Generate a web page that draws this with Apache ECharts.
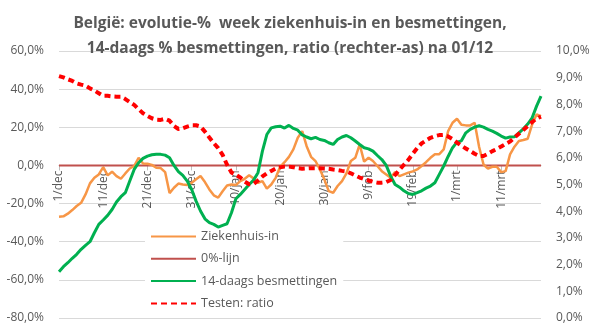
<!DOCTYPE html>
<html><head><meta charset="utf-8">
<script src="https://cdn.jsdelivr.net/npm/echarts@6/dist/echarts.min.js"></script>
<style>html,body{margin:0;padding:0;background:#fff}#c{width:595px;height:328px}</style>
</head><body><div id="c"></div>
<script>
// Category labels: 1/dec .. 20/mrt (daily)
const months = [['dec',31],['jan',31],['feb',28],['mrt',20]];
const categories = [];
months.forEach(([m,n]) => { for (let d = 1; d <= n; d++) categories.push(d + '/' + m); });

const ziekenhuisIn = [
 -26.9,-26.7,-25.3,-23.4,-21.3,-19.6,-15.2,-9.4,-6.5,-4.7,
 -0.9,-5.2,-3.3,-5.6,-7.0,-4.2,-1.6,-0.3,4.0,1.0,
 0.9,0.3,-1.2,-1.4,-3.5,-14.5,-11.7,-9.5,-10.0,-10.3,
 -9.1,-7.3,-5.6,-8.7,-12.6,-15.7,-16.9,-13.5,-10.5,-10.0,
 -10.3,-8.2,-7.0,-5.2,-6.8,-9.1,-8.2,-12.2,-10.0,-6.5,
 -0.7,1.7,4.5,8.4,14.5,18.0,10.1,4.5,2.3,-2.1,
 -7.3,-13.5,-14.3,-10.8,-8.2,-4.2,2.3,4.0,11.0,2.0,
 4.0,2.3,-0.3,-3.0,-4.7,-6.5,-3.5,-5.6,-4.7,-3.8,
 -3.1,-2.1,-0.3,1.7,4.0,5.9,5.9,8.4,18.0,22.4,
 24.5,21.3,21.0,21.0,22.4,9.8,0.5,-1.7,-0.7,-0.7,
 -3.5,-3.0,5.8,9.8,12.8,13.3,14.0,21.5,26.7,25.8
];
const besmettingen14 = [
 -55.7,-53.1,-51.0,-48.7,-46.6,-44.0,-41.9,-40.0,-35.3,-30.9,
 -28.6,-26.2,-23.1,-19.2,-16.4,-14.3,-8.2,-2.1,1.4,3.7,
 4.9,5.6,5.9,5.8,5.4,4.0,0.0,-3.2,-5.2,-8.2,
 -12.6,-18.7,-23.9,-28.0,-30.0,-30.9,-32.3,-31.4,-30.6,-24.8,
 -17.5,-15.2,-12.6,-10.0,-7.7,-3.8,7.5,16.2,19.7,20.3,
 20.6,19.6,21.0,19.4,18.5,16.0,14.9,14.0,14.7,13.6,
 13.1,11.9,11.0,13.6,14.9,15.7,14.5,12.8,11.0,9.3,
 8.7,7.5,5.2,3.1,0.0,-5.6,-10.0,-11.4,-13.3,-14.7,
 -15.2,-14.3,-13.3,-11.9,-10.8,-9.1,-4.7,-0.3,4.7,9.3,
 12.2,12.9,17.1,18.9,20.1,20.8,20.1,18.9,18.0,16.8,
 15.4,14.3,14.9,15.0,17.1,19.2,21.7,25.0,31.1,36.3
];
const testenRatio = [
 9.06,9.01,8.94,8.88,8.79,8.74,8.70,8.60,8.52,8.42,
 8.32,8.32,8.30,8.29,8.29,8.20,8.09,7.98,7.82,7.67,
 7.57,7.48,7.43,7.42,7.46,7.39,7.19,7.08,7.11,7.17,
 7.22,7.22,7.17,6.98,6.76,6.55,6.36,6.11,5.74,5.45,
 5.36,5.26,5.11,5.01,5.02,5.15,5.30,5.42,5.51,5.60,
 5.65,5.67,5.67,5.65,5.61,5.59,5.60,5.61,5.61,5.61,
 5.60,5.59,5.56,5.54,5.51,5.49,5.42,5.34,5.26,5.20,
 5.15,5.10,5.07,5.07,5.09,5.17,5.36,5.55,5.74,5.92,
 6.15,6.36,6.54,6.65,6.75,6.81,6.85,6.86,6.80,6.70,
 6.57,6.45,6.35,6.25,6.15,6.07,6.07,6.15,6.25,6.33,
 6.42,6.52,6.61,6.76,6.90,7.04,7.19,7.34,7.47,7.54
];
const nulLijn = categories.map(() => 0);

const leftTicks = {min: -80, max: 60, interval: 20};
const rightTicks = {min: 0, max: 10, interval: 1};

const FONT = 'Open Sans';
const GREY = '#595959';
const fmt = v => v.toFixed(1).replace('.', ',') + '%';

const GRID_TOP = 51, GRID_BOTTOM = 10, H = 328;
// distance from the bottom of the grid up to the 0% level of the left axis
const plotH = H - GRID_TOP - GRID_BOTTOM;
const zeroOffset = -plotH * (0 - leftTicks.min) / (leftTicks.max - leftTicks.min);

const chart = echarts.init(document.getElementById('c'), null, {renderer: 'canvas'});
chart.setOption({
  animation: false,
  backgroundColor: '#fff',
  textStyle: {fontFamily: FONT},
  title: {
    text: 'België: evolutie-%  week ziekenhuis-in en besmettingen,\n14-daags % besmettingen, ratio (rechter-as) na 01/12',
    left: 290, textAlign: 'center', top: 11, padding: 0,
    textStyle: {fontFamily: FONT, fontWeight: 'bold', fontSize: 15.5, color: GREY, lineHeight: 25}
  },
  grid: {left: 59, right: 54, top: GRID_TOP, bottom: GRID_BOTTOM, containLabel: false, outerBoundsMode: 'none'},
  legend: {
    orient: 'vertical', left: 145, top: 227, padding: [3, 6, 3, 5],
    backgroundColor: '#fff', itemWidth: 45, itemHeight: 14, itemGap: 9.3,
    itemStyle: {opacity: 0},
    textStyle: {fontFamily: FONT, fontSize: 12.5, color: GREY},
    data: ['Ziekenhuis-in', '0%-lijn', '14-daags besmettingen', 'Testen: ratio']
  },
  xAxis: {
    type: 'category', data: categories, boundaryGap: false,
    position: 'bottom', offset: zeroOffset,
    axisLine: {onZero: false, lineStyle: {color: '#BFBFBF'}},
    axisTick: {show: true, interval: 9, length: 5, inside: false, lineStyle: {color: '#BFBFBF'}},
    axisLabel: {interval: 9, rotate: 90, margin: 5, fontSize: 12, color: GREY, fontFamily: FONT,
                showMinLabel: true, hideOverlap: false, padding: [6, 0, 0, 0]},
    splitLine: {show: false}
  },
  yAxis: [
    {type: 'value', min: leftTicks.min, max: leftTicks.max, interval: leftTicks.interval,
     axisLine: {show: false}, axisTick: {show: false},
     axisLabel: {formatter: fmt, fontSize: 12, color: GREY, margin: 15, fontFamily: FONT},
     splitLine: {lineStyle: {color: '#D9D9D9', width: 1}}},
    {type: 'value', min: rightTicks.min, max: rightTicks.max, interval: rightTicks.interval,
     axisLine: {show: false}, axisTick: {show: false},
     axisLabel: {formatter: fmt, fontSize: 12, color: GREY, margin: 15, fontFamily: FONT},
     splitLine: {show: false}}
  ],
  series: [
    {name: 'Ziekenhuis-in', type: 'line', yAxisIndex: 0, data: ziekenhuisIn, symbol: 'none',
     lineStyle: {color: '#F79646', width: 2.5}, itemStyle: {color: '#F79646'}, z: 3},
    {name: '0%-lijn', type: 'line', yAxisIndex: 0, data: nulLijn, symbol: 'none',
     lineStyle: {color: '#C0504D', width: 2}, itemStyle: {color: '#C0504D'}, z: 2},
    {name: '14-daags besmettingen', type: 'line', yAxisIndex: 0, data: besmettingen14, symbol: 'none',
     lineStyle: {color: '#00B050', width: 3}, itemStyle: {color: '#00B050'}, z: 4},
    {name: 'Testen: ratio', type: 'line', yAxisIndex: 1, data: testenRatio, symbol: 'none',
     lineStyle: {color: '#FF0000', width: 4, type: [6, 4]}, itemStyle: {color: '#FF0000'}, z: 5}
  ]
});
</script></body></html>
